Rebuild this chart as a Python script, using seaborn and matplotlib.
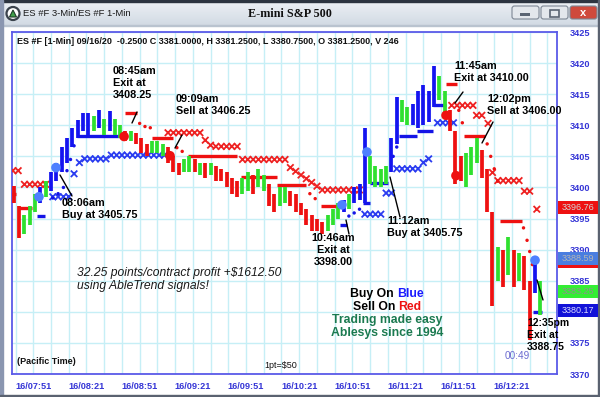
import numpy as np
import pandas as pd
import matplotlib
matplotlib.use("Agg")
import matplotlib.pyplot as plt
import seaborn as sns
from matplotlib.patches import Rectangle, Circle, Polygon, FancyBboxPatch
from matplotlib.colors import LinearSegmentedColormap
import matplotlib.transforms as mtransforms

sns.set_style("white")
plt.rcParams['font.family'] = ['Liberation Sans', 'DejaVu Sans']

# ---------------- data ----------------
# 3-minute price bars (minutes after midnight, Pacific time)
bar_t = np.arange(460, 760, 3)
bar_low = [3397.5, 3391.8, 3392.5, 3394.0, 3396.0, 3397.5, 3398.5, 3399.5, 3401.0, 3402.5,
           3404.0, 3406.5, 3408.0, 3409.0, 3408.5, 3409.0, 3409.5, 3408.5, 3409.0, 3408.5,
           3408.0, 3407.5, 3407.5, 3407.0, 3405.5, 3405.0, 3405.5, 3405.5, 3405.0, 3404.0,
           3402.5, 3402.0, 3402.5, 3402.5, 3402.5, 3402.0, 3401.5, 3402.0, 3401.0, 3401.0,
           3400.0, 3399.0, 3398.5, 3399.0, 3399.5, 3399.0, 3400.0, 3399.5, 3397.0, 3396.0,
           3397.0, 3397.5, 3397.0, 3396.0, 3395.5, 3394.0, 3393.0, 3393.0, 3392.5, 3393.0,
           3394.0, 3395.0, 3396.0, 3396.5, 3397.5, 3398.0, 3397.5, 3400.5, 3400.0, 3400.0,
           3400.5, 3402.5, 3407.0, 3410.5, 3410.0, 3410.0, 3409.5, 3410.0, 3410.5, 3413.0,
           3414.0, 3411.5, 3409.0, 3400.5, 3401.0, 3400.0, 3402.0, 3404.0, 3401.5, 3396.0,
           3381.0, 3385.0, 3384.0, 3386.0, 3384.0, 3385.0, 3383.5, 3375.5, 3383.0, 3379.5]
bar_high = [3400.2, 3397.0, 3395.5, 3397.0, 3399.0, 3400.0, 3401.0, 3402.5, 3404.0, 3406.5,
            3408.0, 3409.5, 3410.8, 3412.0, 3412.0, 3411.5, 3412.5, 3411.0, 3412.3, 3411.0,
            3410.0, 3409.0, 3409.0, 3408.8, 3408.0, 3407.0, 3407.5, 3407.5, 3407.0, 3406.5,
            3405.0, 3404.0, 3404.5, 3405.0, 3404.5, 3404.0, 3404.0, 3404.0, 3403.5, 3403.0,
            3402.5, 3401.5, 3401.0, 3401.5, 3402.5, 3402.0, 3403.0, 3402.0, 3400.5, 3399.0,
            3400.0, 3400.0, 3399.5, 3399.0, 3397.5, 3396.5, 3395.5, 3395.0, 3394.5, 3395.5,
            3396.5, 3397.5, 3398.0, 3399.0, 3400.0, 3400.5, 3409.5, 3405.0, 3403.5, 3403.0,
            3403.5, 3408.0, 3414.5, 3414.0, 3413.0, 3413.5, 3415.5, 3416.5, 3415.5, 3419.5,
            3418.0, 3415.5, 3412.5, 3409.0, 3405.0, 3405.5, 3406.5, 3408.0, 3406.0, 3403.0,
            3396.0, 3390.5, 3390.0, 3392.0, 3390.0, 3389.5, 3389.0, 3385.0, 3388.5, 3385.0]
bar_col = ("r r g g g b g b b b "
           "b b b b b g b g b g "
           "g r g r r r g g g r "
           "r r g g r g r g r r "
           "r r r g g r g g r r "
           "g g r r r r r r r g "
           "g g b g b b b g g g "
           "g b b g g b b b b b "
           "g g r r r g g g r r "
           "r g r g r g r r b g").split()

# trailing-stop level segments (start, end, level, side)
stop_t0 = [459, 462.4, 473, 495.7, 522.7, 538, 558, 588, 608.5, 633, 644, 657, 661, 677, 687.4, 696.5, 704, 714, 734, 753]
stop_t1 = [461.5, 470.3, 477.6, 522, 529.5, 550, 586, 608.5, 625, 644, 648, 661, 671, 687.4, 696.5, 704, 710, 725.6, 746.5, 757.8]
stop_p = [3399.0, 3396.7, 3395.4, 3408.3, 3411.9, 3408.0, 3405.0, 3401.7, 3400.4, 3397.0, 3394.0, 3397.5, 3400.7, 3408.3, 3409.1, 3413.3, 3416.6, 3408.3, 3394.6, 3379.9]
stop_c = ['r', 'r', 'b', 'b', 'r', 'r', 'r', 'r', 'r', 'r', 'b', 'b', 'b', 'b', 'b', 'b', 'r', 'r', 'r', 'b']
# trailing-stop transition dots
sdot_t = [482, 485, 488, 490, 492, 494, 531, 534, 537, 552, 555, 627, 630, 649, 652, 655, 674, 676,
          711, 713, 727, 729, 731, 733, 747.5, 749.5, 751, 752.5]
sdot_p = [3398.3, 3399.0, 3400.0, 3402.7, 3404.5, 3406.7, 3410.3, 3409.8, 3409.6, 3406.4, 3405.8, 3399.0, 3398.2,
          3395.4, 3395.9, 3396.5, 3405.0, 3406.5, 3412.4, 3410.4, 3407.0, 3405.0, 3403.0, 3401.0,
          3393.5, 3391.5, 3389.7, 3387.6]
sdot_c = ['b'] * 6 + ['r'] * 7 + ['b'] * 5 + ['r'] * 10

# slow trend line drawn as X markers: flat runs (start, end, level, side)
xrun_t0 = [459.5, 466, 482, 500, 515, 547, 574, 589, 634, 658, 676, 699, 707, 733]
xrun_t1 = [464, 479, 491, 512, 545, 565, 586, 613, 655, 667, 688, 709, 719, 745]
xrun_p = [3402.7, 3400.5, 3398.5, 3404.6, 3405.2, 3408.8, 3406.6, 3404.5, 3399.6, 3395.7, 3403.0, 3410.4, 3413.2, 3401.1]
xrun_c = ['r', 'r', 'b', 'b', 'b', 'r', 'r', 'r', 'r', 'b', 'b', 'b', 'r', 'r']
# single X markers
xpt_t = [494, 497, 568, 571, 616, 619, 622, 625, 628, 631, 670, 673, 691, 694, 721, 724, 727.5, 730, 748, 751, 755]
xpt_p = [3402.2, 3404.0, 3407.6, 3406.8, 3403.2, 3402.6, 3402.0, 3401.4, 3400.8, 3400.2, 3399.1, 3399.1,
         3404.0, 3404.6, 3411.6, 3411.6, 3410.3, 3402.4, 3399.4, 3399.4, 3396.5]
xpt_c = ['b', 'b', 'r', 'r', 'r', 'r', 'r', 'r', 'r', 'r', 'b', 'b', 'b', 'b', 'r', 'r', 'r', 'r', 'r', 'r', 'r']

# signal dots
sig_t = [474.2, 483.8, 522.2, 548.1, 645.1, 659.2, 703.8, 709.4, 754.0]
sig_p = [3398.5, 3403.2, 3408.2, 3405.1, 3397.2, 3405.7, 3411.6, 3401.9, 3388.3]
sig_c = ['b', 'b', 'r', 'r', 'b', 'b', 'r', 'r', 'b']

# right-axis value boxes
box_vals = [3396.76, 3388.59, 3383.25, 3380.17]
box_text = ["3396.76", "3388.59", "3383.25", "3380.17"]

# axis ticks
xtick_t = [471, 501, 531, 561, 591, 621, 651, 681, 711, 741]
xtick_lab = ["16/07:51", "16/08:21", "16/08:51", "16/09:21", "16/09:51",
             "16/10:21", "16/10:51", "16/11:21", "16/11:51", "16/12:21"]
ytick_v = [3370, 3375, 3380, 3385, 3390, 3395, 3400, 3405, 3410, 3415, 3420, 3425]
ytick_lab = ["3370", "3375", "", "3385", "3390", "3395", "3400", "3405", "3410", "3415", "3420", "3425"]

# ---------------- styling ----------------
W, H = 600, 397
PRICE = {'r': '#ee1111', 'g': '#2fe02f', 'b': '#1414f0'}
STOP = {'r': '#ee1111', 'b': '#1414e6'}
XCOL = {'r': '#ee2222', 'b': '#2a3cf0'}
SIG = {'r': '#ee1111', 'b': '#4d80ff'}
AXBLUE = '#3535d6'
GRID = '#c6eff6'

fig = plt.figure(figsize=(6, 3.97), dpi=100)
fig.patch.set_facecolor('white')

# background / window chrome axes (pixel coords)
bg = fig.add_axes([0, 0, 1, 1], zorder=-1)
bg.set_xlim(0, W); bg.set_ylim(H, 0); bg.axis('off')
cmap = LinearSegmentedColormap.from_list('tb', ['#eef2f6', '#d2dae4'])
bg.imshow(np.linspace(0, 1, 50)[:, None], extent=(0, W, 25, 0), aspect='auto', cmap=cmap)
bg.add_patch(Rectangle((0, 0), W, 1.5, color='#2c3440'))
bg.add_patch(Rectangle((0, 25), W, 1, color='#b9c3cf'))
bg.add_patch(Rectangle((0, 0), 3, H, color='#8a96b0'))
bg.add_patch(Rectangle((W - 2, 0), 2, H, color='#5a6270'))
bg.add_patch(Rectangle((0, H - 2.5), W, 2.5, color='#5a6270'))

# main chart axes
X0, X1 = 459, 459 + 545 / 1.773
ax = fig.add_axes([12 / W, 1 - 374 / H, 545 / W, 342 / H])
ax.set_facecolor('white')
ax.set_xlim(X0, X1)
ax.set_ylim(3370, 3425)

ax.set_xticks(xtick_t)
ax.set_xticklabels(xtick_lab)
ax.set_xticks(np.arange(461, X1, 10), minor=True)
ax.set_yticks(ytick_v)
ax.set_yticklabels(ytick_lab)
ax.yaxis.tick_right()
ax.tick_params(axis='x', which='both', direction='out', colors=AXBLUE, length=3, width=1, pad=3,
               labelsize=6.6, labelcolor=AXBLUE)
ax.tick_params(axis='y', which='both', length=0, pad=9.5, labelsize=6.6, labelcolor=AXBLUE)
for lab in ax.get_xticklabels() + ax.get_yticklabels():
    lab.set_fontweight('bold')
ax.grid(True, which='minor', axis='x', color=GRID, lw=1)
ax.grid(True, which='major', axis='x', color=GRID, lw=1)
ax.grid(True, which='major', axis='y', color=GRID, lw=1)
ax.set_axisbelow(True)
for s in ax.spines.values():
    s.set_color('#5a5ae8')
    s.set_linewidth(1.3)

# X markers (slow trend)
xr_t, xr_p, xr_c = [], [], []
for a, b, p, c in zip(xrun_t0, xrun_t1, xrun_p, xrun_c):
    for t in np.arange(a, b + 0.01, 3):
        xr_t.append(t); xr_p.append(p); xr_c.append(c)
xr_t += xpt_t; xr_p += xpt_p; xr_c += xpt_c
dfx = pd.DataFrame({'t': xr_t, 'p': xr_p, 'c': xr_c})
sns.scatterplot(data=dfx, x='t', y='p', hue='c', palette=XCOL, marker='x', s=22,
                linewidth=1.3, legend=False, ax=ax, zorder=3)

# trailing stops
ax.hlines(stop_p, stop_t0, stop_t1, colors=[STOP[c] for c in stop_c], lw=2.4, zorder=3)
dfs = pd.DataFrame({'t': sdot_t, 'p': sdot_p, 'c': sdot_c})
sns.scatterplot(data=dfs, x='t', y='p', hue='c', palette=STOP, marker='o', s=6,
                linewidth=0, legend=False, ax=ax, zorder=3)

# price bars
ax.vlines(bar_t, bar_low, bar_high, colors=[PRICE[c] for c in bar_col], lw=2.7, zorder=4)

# signal dots
dfg = pd.DataFrame({'t': sig_t, 'p': sig_p, 'c': sig_c})
sns.scatterplot(data=dfg, x='t', y='p', hue='c', palette=SIG, marker='o', s=48,
                linewidth=0, legend=False, ax=ax, zorder=5)

ax.set_xlabel(''); ax.set_ylabel('')

# right-side value boxes
trans = mtransforms.blended_transform_factory(ax.transAxes, ax.transData)
box_fc = ['#ee1111', '#4a7ee0', '#33ee33', '#1212d8']
box_tc = ['#d4d4d4', '#b4b4b4', '#8f8f8f', '#dcdcff']
bh = 2.1
for v, txt, fc, tc in zip(box_vals, box_text, box_fc, box_tc):
    ax.add_patch(Rectangle((1.002, v - bh / 2), 0.074, bh, transform=trans, facecolor=fc,
                           edgecolor='none', clip_on=False, zorder=10))
    ax.text(1.039, v, txt, transform=trans, ha='center', va='center', fontsize=6.5,
            color=tc, clip_on=False, zorder=11)
ax.add_patch(Rectangle((1.002, box_vals[1] - bh / 2 - 0.55), 0.074, 0.55, transform=trans,
                       facecolor='#ee1111', edgecolor='none', clip_on=False, zorder=10))

# ---------------- overlay text (pixel coords) ----------------
ov = fig.add_axes([0, 0, 1, 1], zorder=5)
ov.set_xlim(0, W); ov.set_ylim(H, 0); ov.axis('off'); ov.patch.set_alpha(0)

# title bar
ov.add_patch(Circle((13, 13.5), 6.5, facecolor='white', edgecolor='#3a424c', lw=1.6))
ov.add_patch(Polygon([[9.5, 17], [16.5, 17], [13, 10]], closed=True, facecolor='#3fa04a',
                     edgecolor='#1e3a28', lw=0.8))
ov.text(23, 14, "ES #F 3-Min/ES #F 1-Min", fontsize=6.8, color='#1a1a1a', va='center')
ov.text(290, 14, "E-mini S&P 500", fontsize=8.7, fontweight='bold', family='Liberation Serif',
        color='#111111', ha='center', va='center')
for x0, fc in [(512, '#e3e7ec'), (541, '#e3e7ec'), (570, '#cf4a3c')]:
    ov.add_patch(FancyBboxPatch((x0, 6), 27, 13, boxstyle='round,pad=0,rounding_size=2.5',
                                facecolor=fc, edgecolor='#7d8794', lw=0.8))
ov.add_patch(Rectangle((520, 12.5), 10, 3, facecolor='#5a6472', edgecolor='none'))
ov.add_patch(Rectangle((550, 9.5), 9, 7, facecolor='none', edgecolor='#5a6472', lw=1.2))
ov.text(583.5, 13, "x", fontsize=8, fontweight='bold', color='white', ha='center', va='center')

# chart header
ov.text(17, 42, "ES #F [1-Min] 09/16/20  -0.2500 C 3381.0000, H 3381.2500, L 3380.7500, "
        "O 3381.2500, V 246", fontsize=6.5, fontweight='bold', color='#111111', va='center')

ann_kw = dict(fontsize=7.8, fontweight='bold', color='black', va='top', linespacing=1.22)
ov.text(113, 66, "08:45am\nExit at\n3408.25", **ann_kw)
ov.text(176, 94, "09:09am\nSell at 3406.25", **ann_kw)
ov.text(62, 198, "08:06am\nBuy at 3405.75", **ann_kw)
ov.text(333, 233, "10:46am\nExit at\n3398.00", ha='center', **ann_kw)
ov.text(387, 216, "11:12am\nBuy at 3405.75", **ann_kw)
ov.text(454, 61, "11:45am\nExit at 3410.00", **ann_kw)
ov.text(487, 94, "12:02pm\nSell at 3406.00", **ann_kw)
ov.text(527, 318, "12:35pm\nExit at\n3388.75", fontsize=7.5, fontweight='bold', color='black',
        va='top', linespacing=1.25)

arrows = [((137, 112), (132, 123)), ((182, 135), (175, 148)), ((60, 175), (72, 196)),
          ((346, 220), (349, 234)), ((390, 177), (400, 217)), ((455, 103), (463, 92)),
          ((482, 143), (493, 122)), ((537, 280), (543, 300))]
for (x0, y0), (x1, y1) in arrows:
    ov.annotate('', xy=(x0, y0), xytext=(x1, y1),
                arrowprops=dict(arrowstyle='-', color='black', lw=1.0, shrinkA=0, shrinkB=0))

ov.text(77, 267, "32.25 points/contract profit +$1612.50\nusing AbleTrend signals!",
        fontsize=8.7, style='italic', color='#1a1a1a', va='top', linespacing=1.15)

big = dict(fontsize=8.8, fontweight='bold', ha='center', va='center')


def two_colour(y, a, b, colb):
    t1 = ov.text(0, y, a, color='black', fontsize=8.8, fontweight='bold', va='center')
    t2 = ov.text(0, y, b, color=colb, fontsize=8.8, fontweight='bold', va='center')
    fig.canvas.draw()
    r = fig.canvas.get_renderer()
    w1 = t1.get_window_extent(r).width
    w2 = t2.get_window_extent(r).width
    left = 387 - (w1 + w2) / 2
    t1.set_x(left)
    t2.set_x(left + w1)


two_colour(294, "Buy On ", "Blue", '#1a1aff')
two_colour(307, "Sell On ", "Red", '#ee1111')
ov.text(387, 320, "Trading made easy", color='#1b7a50', **big)
ov.text(387, 333, "Ablesys since 1994", color='#1b7a50', **big)

ov.text(17, 361, "(Pacific Time)", fontsize=6.5, fontweight='bold', color='#111111', va='center')
ov.text(281, 366, "1pt=$50", fontsize=6.5, color='#111111', ha='center', va='center')
ov.text(517, 356, "00:49", fontsize=7.2, color='#6a6ad0', ha='center', va='center')

fig.savefig("out.png", dpi=100)
